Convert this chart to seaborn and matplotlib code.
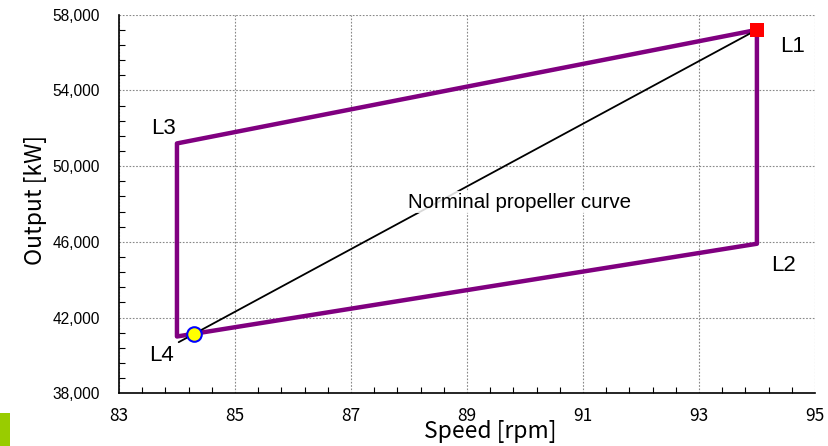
import matplotlib
matplotlib.use("Agg")
import matplotlib.pyplot as plt
import matplotlib.ticker as mticker
from matplotlib.patches import Rectangle
import pandas as pd
import seaborn as sns

# engine layout limit (L1 -> L2 -> L4 -> L3 -> L1)
layout_speed = [94.0, 94.0, 84.0, 84.0, 94.0]
layout_output = [57200, 45900, 41000, 51200, 57200]

# nominal propeller curve
prop_speed = [84.03, 94.07]
prop_output = [40700, 57320]

# points
mcr_speed = [94.0]
mcr_output = [57200]
op_speed = [84.3]
op_output = [41150]

corner_names = ["L1", "L2", "L3", "L4"]
corner_x = [94.62, 94.45, 83.76, 83.74]
corner_y = [56300, 44750, 52000, 40000]

sns.set_theme(style="white")
plt.rcParams["font.family"] = ["Liberation Sans", "DejaVu Sans"]
plt.rcParams["text.color"] = "black"
plt.rcParams["axes.labelcolor"] = "black"

fig = plt.figure(figsize=(8.29, 4.46), dpi=100)
ax = fig.add_axes([0.1435, 0.1182, 0.8395, 0.8488])

layout_df = pd.DataFrame({"speed": layout_speed, "output": layout_output})
sns.lineplot(data=layout_df, x="speed", y="output", sort=False, estimator=None,
             color="#800080", linewidth=3.2, ax=ax, zorder=3)

prop_df = pd.DataFrame({"speed": prop_speed, "output": prop_output})
sns.lineplot(data=prop_df, x="speed", y="output", sort=False, estimator=None,
             color="black", linewidth=1.3, ax=ax, zorder=4)

sns.scatterplot(x=mcr_speed, y=mcr_output, marker="s", s=100, color="red",
                edgecolor="none", ax=ax, zorder=5)
sns.scatterplot(x=op_speed, y=op_output, marker="o", s=110, color="yellow",
                edgecolor="blue", linewidth=1.5, ax=ax, zorder=5)

ax.text(87.98, 48100, "Norminal propeller curve", fontsize=14.8, ha="left", va="center",
        color="black", zorder=6,
        bbox=dict(facecolor="white", edgecolor="none", alpha=0.85, pad=1))

for name, x, y in zip(corner_names, corner_x, corner_y):
    ax.text(x, y, name, fontsize=16, ha="center", va="center", color="black", zorder=6)

ax.set_xlim(83, 95)
ax.set_ylim(38000, 58000)
ax.xaxis.set_major_locator(mticker.MultipleLocator(2, offset=1))
ax.xaxis.set_minor_locator(mticker.MultipleLocator(0.4, offset=0.2))
ax.yaxis.set_major_locator(mticker.MultipleLocator(4000, offset=2000))
ax.yaxis.set_minor_locator(mticker.MultipleLocator(800, offset=400))
ax.yaxis.set_major_formatter(mticker.StrMethodFormatter("{x:,.0f}"))

ax.grid(True, which="major", color="#888888", linestyle=(0, (1.5, 1.5)), linewidth=0.8)
ax.tick_params(which="both", direction="in", left=True, bottom=True,
               colors="black", labelcolor="black")
ax.tick_params(which="major", length=0)
ax.tick_params(which="minor", length=4, width=0.8)
ax.tick_params(axis="x", which="major", pad=10)
ax.tick_params(axis="y", which="major", pad=14)

for side in ["top", "right"]:
    ax.spines[side].set_visible(False)
for side in ["left", "bottom"]:
    ax.spines[side].set_color("black")
    ax.spines[side].set_linewidth(1.2)

tick_font = ["Noto Sans CJK JP", "DejaVu Sans"]
for lab in ax.get_xticklabels():
    lab.set_family(tick_font)
    lab.set_fontsize(12.5)
for lab in ax.get_yticklabels():
    lab.set_fontsize(11.2)

ax.set_xlabel("Speed [rpm]", fontsize=16.5, family=tick_font, color="black")
ax.set_ylabel("Output [kW]", fontsize=16.5, family=tick_font, color="black")
ax.xaxis.set_label_coords(0.533, -0.07)
ax.yaxis.set_label_coords(-0.104, 0.51)

fig.patches.append(Rectangle((0, 0), 10 / 829, 33 / 446, transform=fig.transFigure,
                             facecolor="#99cc00", edgecolor="none"))

fig.savefig("out.png", dpi=100)
